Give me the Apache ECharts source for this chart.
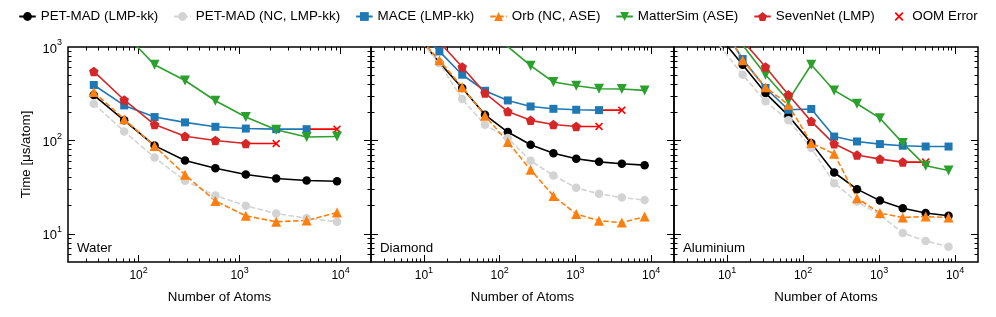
<!DOCTYPE html>
<html><head><meta charset="utf-8">
<script src="https://cdn.jsdelivr.net/npm/echarts@6/dist/echarts.min.js"></script>
<style>html,body{margin:0;padding:0;background:#fff}#c{width:996px;height:317px}</style>
</head><body><div id="c"></div>
<script>
const FONT = '"Liberation Sans", Arial, Helvetica, sans-serif';

// ---------- data ----------
const modelNames = ['PET-MAD (LMP-kk)', 'PET-MAD (NC, LMP-kk)', 'MACE (LMP-kk)', 'Orb (NC, ASE)', 'MatterSim (ASE)', 'SevenNet (LMP)'];
const panelNames = ['Water', 'Diamond', 'Aluminium'];

const waterAtoms = [36, 72, 144, 288, 576, 1152, 2304, 4608, 9216];
const crystalAtoms = [8, 16, 32, 64, 128, 256, 512, 1024, 2048, 4096, 8192];

const waterPetmad    = [306, 164, 88, 61, 50.5, 43.2, 39.1, 37.2, 36.6];
const waterPetmadNC  = [247, 125, 65.6, 37, 25.7, 20, 16.5, 14.7, 13.5];
const waterMace      = [392, 237, 178, 156, 140, 134, 132, 132, null];
const waterOrb       = [330, 169, 87, 42.9, 22.5, 15.6, 13.5, 13.9, 16.9];
const waterMatterSim = [2600, 1400, 646, 438, 266, 178, 130, 109, 110];
const waterSevenNet  = [548, 271, 148, 111, 100, 92.7, null, null, null];
const waterOomModel  = [2, 5];
const waterOomAtoms  = [9216, 2304];

const diamondPetmad    = [1350, 680, 364, 188, 123, 89.8, 73, 63.6, 59, 56.2, 54.4];
const diamondPetmadNC  = [1300, 674, 277, 147, 106, 60.5, 42.2, 31.1, 26.8, 24.5, 23];
const diamondMace      = [1500, 897, 505, 340, 268, 231, 218, 213, 211, null, null];
const diamondOrb       = [1350, 720, 372, 184, 96, 48.5, 25.5, 16.3, 13.8, 13.2, 15.3];
const diamondMatterSim = [null, null, null, 1800, 1010, 631, 422, 385, 357, 355, 343];
const diamondSevenNet  = [2000, 1130, 611, 321, 204, 164, 148, 141, null, null, null];
const diamondOomModel  = [2, 5];
const diamondOomAtoms  = [4096, 2048];

const aluPetmad    = [1285, 646, 321, 184, 93.6, 45.4, 30.1, 22.7, 18.8, 16.7, 15.6];
const aluPetmadNC  = [1030, 505, 262, 164, 82.8, 34.9, 22.2, 16, 10.2, 8.4, 7.3];
const aluMace      = [1800, 743, 364, 213, 217, 110, 97.5, 91.4, 87.8, 86.1, 86];
const aluOrb       = [2000, 720, 372, 241, 93.6, 71.9, 24.1, 16.7, 15, 15.3, 15];
const aluMatterSim = [null, 1050, 505, 268, 646, 343, 247, 173, 93.6, 53.5, 47.6];
const aluSevenNet  = [null, 1170, 611, 308, 160, 92, 69.7, 63.1, 58.6, null, null];
const aluOomModel  = [5];
const aluOomAtoms  = [4096];

const xMinByPanel = [20, 2, 2];
const xMaxByPanel = [20000, 20000, 20000];
const yMin = 5, yMax = 1000;
const xMajorTicks = [10, 100, 1000, 10000];
const yMajorTicks = [10, 100, 1000];

// ---------- styling ----------
const colors = ['#000000', '#d3d3d3', '#1f77b4', '#ff7f0e', '#2ca02c', '#d62728'];
const dashed = [false, true, false, true, false, false];
const symbols = ['circle', 'circle', 'rect', 'triangle',
  'path://M0,0L10,0L5,8.66Z',
  'path://M5,0L10,3.63L8.09,9.51L1.91,9.51L0,3.63Z'];
const symbolSizes = [8.5, 8.5, 8, 10, 10, 9.5];
const X_PATH = 'path://M0,1.4L1.4,0L5,3.6L8.6,0L10,1.4L6.4,5L10,8.6L8.6,10L5,6.4L1.4,10L0,8.6L3.6,5Z';
const OOM_COLOR = '#ff0000';

const panelAtoms = [waterAtoms, crystalAtoms, crystalAtoms];
const panelSeries = [
  [waterPetmad, waterPetmadNC, waterMace, waterOrb, waterMatterSim, waterSevenNet],
  [diamondPetmad, diamondPetmadNC, diamondMace, diamondOrb, diamondMatterSim, diamondSevenNet],
  [aluPetmad, aluPetmadNC, aluMace, aluOrb, aluMatterSim, aluSevenNet]
];
const panelOomModel = [waterOomModel, diamondOomModel, aluOomModel];
const panelOomAtoms = [waterOomAtoms, diamondOomAtoms, aluOomAtoms];

function minorTicks(lo, hi) {
  const out = [];
  for (let p = -1; p <= 5; p++) {
    for (let m = 2; m <= 9; m++) {
      const v = m * Math.pow(10, p);
      if (v > lo * 1.0001 && v < hi * 0.9999) out.push(v);
    }
  }
  return out;
}

// ---------- layout ----------
const gridLeft = [68, 371, 674];
const gridWidth = [303, 303, 304];
const gridTop = 47, gridHeight = 215;

function richFor(size) {
  return {
    b: { fontSize: size, lineHeight: size + 4, verticalAlign: 'bottom', fontFamily: FONT, color: '#000' },
    s: { fontSize: Math.round(size * 0.72), lineHeight: Math.round(size * 0.72) + 1, verticalAlign: 'top', fontFamily: FONT, color: '#000' }
  };
}
const supFmt = v => '{b|10}{s|' + Math.round(Math.log10(v)) + '}';

const grids = [], xAxes = [], yAxes = [], series = [], graphics = [];

for (let g = 0; g < 3; g++) {
  grids.push({ left: gridLeft[g], top: gridTop, width: gridWidth[g], height: gridHeight,
    show: true, borderColor: '#000', borderWidth: 1.5, backgroundColor: 'transparent', containLabel: false });
  const xmin = xMinByPanel[g], xmax = xMaxByPanel[g];
  const xMajors = xMajorTicks.filter(v => v > xmin && v < xmax);
  const xMinors = minorTicks(xmin, xmax);
  const yMajors = yMajorTicks.filter(v => v > yMin && v < yMax);
  const yLabels = yMajorTicks.filter(v => v > yMin && v <= yMax);
  const yMinors = minorTicks(yMin, yMax);
  const mkX = (pos, ticks, len, labels) => ({
    type: 'log', logBase: 10, gridIndex: g, position: pos, min: xmin, max: xmax,
    axisLine: { show: false, onZero: false },
    axisTick: { show: true, inside: true, length: len, customValues: ticks, lineStyle: { color: '#000', width: 1 } },
    axisLabel: labels ? { show: true, customValues: ticks, margin: 4, fontSize: 12, color: '#000', fontFamily: FONT, formatter: supFmt, rich: richFor(12) } : { show: false },
    splitLine: { show: false }, minorTick: { show: false }, minorSplitLine: { show: false },
    name: labels ? 'Number of Atoms' : '', nameLocation: 'middle', nameGap: 29,
    nameTextStyle: { fontFamily: FONT, fontSize: 13.3, color: '#000' }
  });
  const mkY = (pos, ticks, len, labels) => ({
    type: 'log', logBase: 10, gridIndex: g, position: pos, min: yMin, max: yMax,
    axisLine: { show: false, onZero: false },
    axisTick: { show: true, inside: true, length: len, customValues: ticks, lineStyle: { color: '#000', width: 1 } },
    axisLabel: labels ? { show: true, customValues: yLabels, margin: 6, fontSize: 13, color: '#000', fontFamily: FONT, formatter: supFmt, rich: richFor(13) } : { show: false },
    splitLine: { show: false }, minorTick: { show: false }, minorSplitLine: { show: false },
    name: labels ? 'Time [μs/atom]' : '', nameLocation: 'middle', nameGap: 35, nameRotate: 90,
    nameTextStyle: { fontFamily: FONT, fontSize: 13.3, color: '#000' }
  });
  xAxes.push(mkX('bottom', xMajors, 7, true));
  xAxes.push(mkX('bottom', xMinors, 3.5, false));
  xAxes.push(mkX('top', xMajors, 7, false));
  xAxes.push(mkX('top', xMinors, 3.5, false));
  yAxes.push(mkY('left', yMajors, 7, g === 0));
  yAxes.push(mkY('left', yMinors, 3.5, false));
  yAxes.push(mkY('right', yMajors, 7, false));
  yAxes.push(mkY('right', yMinors, 3.5, false));

  const atoms = panelAtoms[g];
  panelSeries[g].forEach((vals, k) => {
    const data = [];
    atoms.forEach((x, i) => { if (vals[i] != null) data.push([x, vals[i]]); });
    series.push({
      type: 'line', name: modelNames[k], xAxisIndex: 4 * g, yAxisIndex: 4 * g,
      data, symbol: symbols[k], symbolSize: symbolSizes[k], showSymbol: true, clip: true,
      itemStyle: { color: colors[k] },
      lineStyle: { color: colors[k], width: 1.6, type: dashed[k] ? [5.5, 2.4] : 'solid' },
      emphasis: { disabled: true }, z: 2
    });
  });
  panelOomModel[g].forEach((k, j) => {
    const vals = panelSeries[g][k];
    let last = -1;
    vals.forEach((v, i) => { if (v != null) last = i; });
    series.push({
      type: 'line', name: 'OOM Error', xAxisIndex: 4 * g, yAxisIndex: 4 * g,
      data: [{ value: [atoms[last], vals[last]], symbol: 'none' }, [panelOomAtoms[g][j], vals[last]]],
      symbol: X_PATH, symbolSize: 8, showSymbol: true, clip: true,
      itemStyle: { color: OOM_COLOR }, lineStyle: { color: OOM_COLOR, width: 1.6 },
      emphasis: { disabled: true }, z: 1
    });
  });
  graphics.push({ type: 'text', left: gridLeft[g] + 9, top: 242,
    style: { text: panelNames[g], fontFamily: FONT, fontSize: 13.3, fill: '#000' } });
}

const chart = echarts.init(document.getElementById('c'), null, { renderer: 'canvas' });
chart.setOption({
  animation: false,
  backgroundColor: '#fff',
  textStyle: { fontFamily: FONT },
  legend: {
    top: 5, left: 'center', itemWidth: 16.5, itemHeight: 11, itemGap: 15,
    textStyle: { fontFamily: FONT, fontSize: 13.4, color: '#000' },
    data: modelNames.concat([{ name: 'OOM Error', lineStyle: { opacity: 0 } }])
  },
  grid: grids, xAxis: xAxes, yAxis: yAxes, series, graphic: graphics
});
</script></body></html>
